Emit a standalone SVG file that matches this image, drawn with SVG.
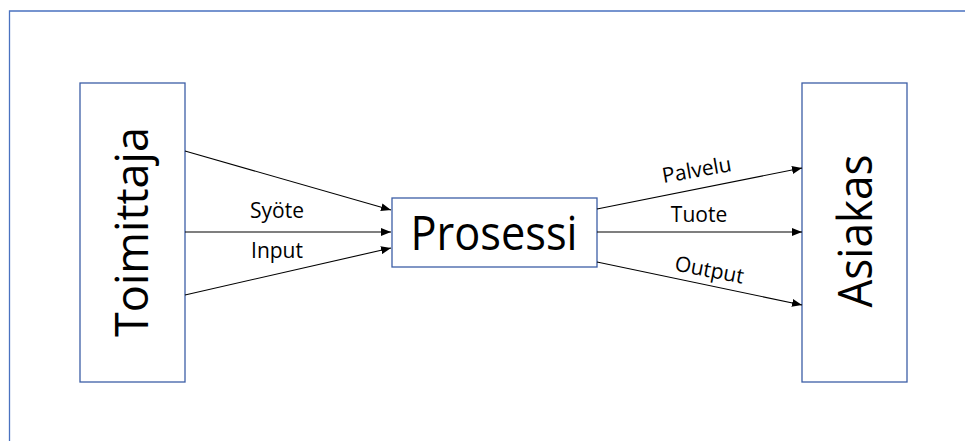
<svg xmlns="http://www.w3.org/2000/svg" width="965" height="441" viewBox="0 0 965 441">
<style>
.frame{fill:none;stroke:#4a72c0;stroke-width:1.3}
.box{fill:#fff;stroke:#3c5ea6;stroke-width:1.3}
.big{font-family:"Open Sans","Noto Sans",sans-serif;fill:#000}
.lbl{font-family:"Open Sans","Noto Sans",sans-serif;font-size:21px;fill:#000;text-anchor:middle}
.c{stroke:#000;stroke-width:1.1;fill:none;marker-end:url(#ah)}
</style>
<defs>
<marker id="ah" markerWidth="10" markerHeight="8" refX="10" refY="4" orient="auto" markerUnits="userSpaceOnUse">
<path d="M0,0 L10,4 L0,8 Z" fill="#000"/>
</marker>
</defs>
<rect width="965" height="441" fill="#fff"/>
<path class="frame" d="M9.5,441 V11 H965"/>
<g id="toimittaja">
<rect class="box" x="80" y="83" width="105" height="299"/>
<text class="big" transform="translate(148,232) rotate(-90)" font-size="46" text-anchor="middle" textLength="210" lengthAdjust="spacingAndGlyphs">Toimittaja</text>
</g>
<g id="prosessi">
<rect class="box" x="392" y="198" width="205" height="69"/>
<text class="big" x="494" y="250" font-size="47" text-anchor="middle" textLength="167" lengthAdjust="spacingAndGlyphs">Prosessi</text>
</g>
<g id="asiakas">
<rect class="box" x="802" y="83" width="105" height="299"/>
<text class="big" transform="translate(872,231) rotate(-90)" font-size="48" text-anchor="middle" textLength="153" lengthAdjust="spacingAndGlyphs">Asiakas</text>
</g>
<g id="connectors">
<line class="c" x1="185" y1="151" x2="391" y2="210"/>
<line class="c" x1="185" y1="232" x2="391" y2="232"/>
<line class="c" x1="185" y1="295" x2="391" y2="248"/>
<line class="c" x1="597" y1="209" x2="802" y2="168"/>
<line class="c" x1="597" y1="232" x2="802" y2="232"/>
<line class="c" x1="597" y1="262" x2="802" y2="305"/>
<text class="lbl" x="277" y="218">Syöte</text>
<text class="lbl" x="277" y="258">Input</text>
<text class="lbl" transform="translate(698,177) rotate(-10)">Palvelu</text>
<text class="lbl" x="699" y="222">Tuote</text>
<text class="lbl" transform="translate(708,277) rotate(11)">Output</text>
</g>
</svg>
